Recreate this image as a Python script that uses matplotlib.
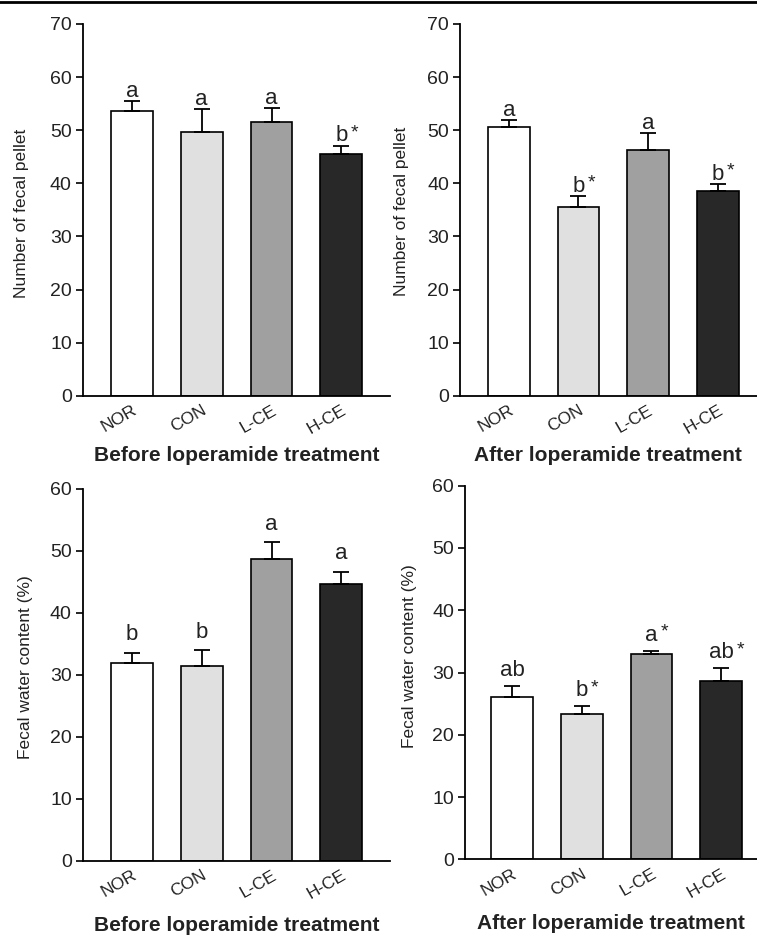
import numpy as np
import matplotlib.pyplot as plt
from matplotlib.lines import Line2D

plt.rcParams["font.family"] = ["Liberation Sans", "DejaVu Sans"]

groups = ["NOR", "CON", "L-CE", "H-CE"]
bar_colors = ["#ffffff", "#e0e0e0", "#a0a0a0", "#282828"]

pellet_before = [53.6, 49.6, 51.6, 45.6]
pellet_before_err = [1.9, 4.3, 2.5, 1.5]
pellet_before_lbl = ["a", "a", "a", "b"]
pellet_before_star = [False, False, False, True]

pellet_after = [50.6, 35.6, 46.3, 38.5]
pellet_after_err = [1.3, 2.0, 3.1, 1.4]
pellet_after_lbl = ["a", "b", "a", "b"]
pellet_after_star = [False, True, False, True]

water_before = [31.9, 31.4, 48.7, 44.7]
water_before_err = [1.7, 2.6, 2.7, 1.9]
water_before_lbl = ["b", "b", "a", "a"]
water_before_star = [False, False, False, False]

water_after = [26.0, 23.3, 33.0, 28.7]
water_after_err = [1.9, 1.3, 0.5, 2.0]
water_after_lbl = ["ab", "b", "a", "ab"]
water_after_star = [False, True, True, True]

fig = plt.figure(figsize=(7.57, 9.36), dpi=100)

# top border line of the original figure
fig.add_artist(Line2D([0, 1], [0.998, 0.998], color="black", lw=2))

panels = [
    # rect, values, errors, letters, stars, ylim, ylabel, xlabel, xlim,
    # letter pad, ylabel pad, ylabel y, xlabel y
    ([0.1096, 0.5772, 0.405, 0.3972], pellet_before, pellet_before_err,
     pellet_before_lbl, pellet_before_star, 70, "Number of fecal pellet",
     "Before loperamide treatment", (-0.7, 3.69), 3, 15, 0.49, -0.135),
    ([0.6077, 0.5772, 0.392, 0.3972], pellet_after, pellet_after_err,
     pellet_after_lbl, pellet_after_star, 70, "Number of fecal pellet",
     "After loperamide treatment", (-0.7, 3.56), 3, 13, 0.495, -0.135),
    ([0.1096, 0.0805, 0.405, 0.3971], water_before, water_before_err,
     water_before_lbl, water_before_star, 60, "Fecal water content (%)",
     "Before loperamide treatment", (-0.7, 3.69), 9, 12, 0.52, -0.15),
    ([0.6143, 0.0819, 0.386, 0.3992], water_after, water_after_err,
     water_after_lbl, water_after_star, 60, "Fecal water content (%)",
     "After loperamide treatment", (-0.68, 3.52), 7, 11, 0.545, -0.145),
]

x = np.arange(len(groups))

for rect, vals, errs, lbls, stars, ytop, ylab, xlab, xlim, pad, ypad, ly, lx in panels:
    ax = fig.add_axes(rect)
    ax.bar(x, vals, width=0.6, color=bar_colors, edgecolor="black",
           linewidth=1.2, yerr=[np.zeros(len(vals)), errs], capsize=6,
           error_kw={"elinewidth": 1.3, "capthick": 1.3, "ecolor": "black"})
    tops = np.array(vals) + np.array(errs)
    for xi, top, lbl, star in zip(x, tops, lbls, stars):
        t = ax.annotate(lbl, (xi, top), xytext=(0, pad), textcoords="offset points",
                        ha="center", va="baseline", fontsize=16, color="#222222")
        if star:
            ax.annotate("*", xy=(1, 1), xycoords=t, xytext=(2, 1),
                        textcoords="offset points", ha="left", va="top",
                        fontsize=14, color="#222222")

    ax.set_xlim(*xlim)
    ax.set_ylim(0, ytop)
    ax.set_yticks(np.arange(0, ytop + 1, 10))
    ax.set_xticks(x)
    ax.set_xticklabels(groups, rotation=30, ha="right", rotation_mode="anchor",
                       fontsize=12.5, color="#222222")
    ax.tick_params(axis="x", length=0, pad=5)
    ax.tick_params(axis="y", direction="out", length=5, width=1.2, pad=3,
                   labelsize=14, labelcolor="#222222")
    for s in ["top", "right"]:
        ax.spines[s].set_visible(False)
    for s in ["left", "bottom"]:
        ax.spines[s].set_linewidth(1.3)
    ax.set_ylabel(ylab, fontsize=12.5, color="#222222", labelpad=ypad)
    ax.yaxis.label.set_y(ly)
    ax.set_xlabel(xlab, fontsize=15, fontweight="bold", color="#222222")
    ax.xaxis.set_label_coords(0.5, lx)
    ax.xaxis.label.set_va("top")

fig.savefig("out.png", dpi=100)
